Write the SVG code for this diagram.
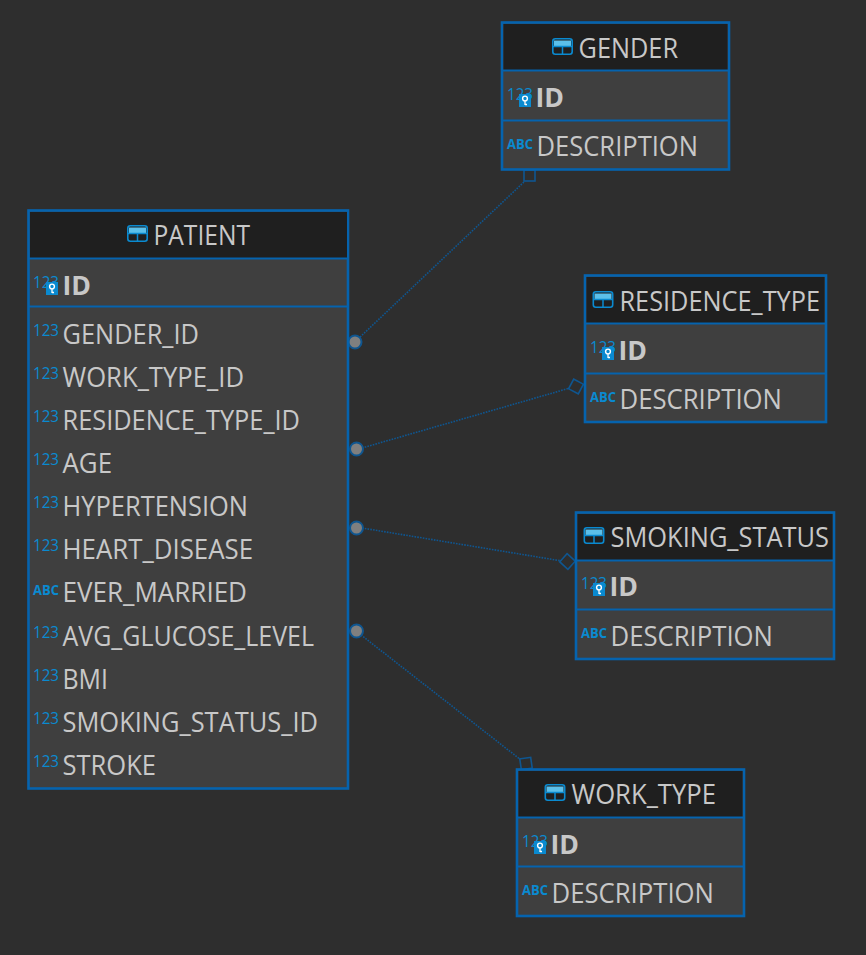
<svg xmlns="http://www.w3.org/2000/svg" xmlns:xlink="http://www.w3.org/1999/xlink" width="866" height="955" viewBox="0 0 866 955">
<style>
text{font-family:"Open Sans","Noto Sans","Liberation Sans",sans-serif}
.box{fill:#3f3f3f;stroke:#0563ae;stroke-width:2.600}
.head{fill:#1f1f1f}
.sep{stroke:#0563ae;stroke-width:1.800;fill:none}
.t{fill:#c8c8c8;font-size:27px}
.b{fill:#c8c8c8;font-size:27px;font-weight:700}
.n{fill:#0a8ad0;font-size:16px}
.a{fill:#0a8ad0;font-size:15px;font-weight:700}
.conn{stroke:#0f5690;stroke-width:1.6;stroke-dasharray:1.6 1.2;fill:none}
.end{fill:#2e2e2e;stroke:#0f5690;stroke-width:1.6}
.dot{fill:#7f7f7f;stroke:#0f5690;stroke-width:2}
</style>
<defs>
<g id="tbl">
<rect x="0.8" y="0.8" width="19.4" height="15.4" rx="2.5" fill="#1f1f1f" stroke="#0a8ad0" stroke-width="1.6"/>
<rect x="2" y="2.5" width="17" height="5.5" fill="#5cc0ea"/>
<path d="M1 8.5H20M10.500 8.5V16" stroke="#0a8ad0" stroke-width="1.5" fill="none"/>
</g>
<g id="key">
<rect x="0" y="0" width="12" height="13" fill="#0a8ad0"/>
<circle cx="6" cy="4.5" r="2.4" fill="none" stroke="#fff" stroke-width="1.4"/>
<path d="M6 7V11M6 10.5H8" stroke="#fff" stroke-width="1.3" fill="none"/>
</g>
</defs>
<rect width="866" height="955" fill="#2e2e2e"/>
<g id="connectors">
<path class="conn" d="M358 339L525 181"/>
<path class="conn" d="M362 448L570 388"/>
<path class="conn" d="M362 528L562 561"/>
<path class="conn" d="M361 635L521 760"/>
<rect class="end" x="524" y="170" width="11" height="11"/>
<rect class="end" x="570.500" y="381" width="11" height="11" transform="rotate(28 576 386.500)"/>
<rect class="end" x="562" y="556" width="11" height="11" transform="rotate(42 567.500 561.500)"/>
<rect class="end" x="520.500" y="758" width="11" height="11" transform="rotate(-8 526 763.500)"/>
<circle class="dot" cx="355" cy="342" r="6.500"/>
<circle class="dot" cx="356.500" cy="449" r="6.500"/>
<circle class="dot" cx="356.500" cy="528" r="6.500"/>
<circle class="dot" cx="356.500" cy="631" r="6.500"/>
</g>
<g id="patient">
<rect class="box" x="28.500" y="210.500" width="319.500" height="578"/>
<rect class="head" x="30" y="212" width="317" height="46"/>
<path class="sep" d="M29 258.500H347M29 306.500H347"/>
<use xlink:href="#tbl" href="#tbl" x="127" y="225"/>
<text class="t" x="153.500" y="245" textLength="96.500" lengthAdjust="spacingAndGlyphs">PATIENT</text>
<text class="n" x="33" y="288" textLength="26" lengthAdjust="spacingAndGlyphs">123</text>
<use xlink:href="#key" href="#key" x="46" y="282"/>
<text class="b" x="62.500" y="294.500" textLength="28.500" lengthAdjust="spacingAndGlyphs">ID</text>
<text class="n" x="33" y="336" textLength="26" lengthAdjust="spacingAndGlyphs">123</text>
<text class="t" x="62.500" y="343.500" textLength="136.500" lengthAdjust="spacingAndGlyphs">GENDER_ID</text>
<text class="n" x="33" y="379" textLength="26" lengthAdjust="spacingAndGlyphs">123</text>
<text class="t" x="62.500" y="386.500" textLength="181.500" lengthAdjust="spacingAndGlyphs">WORK_TYPE_ID</text>
<text class="n" x="33" y="422" textLength="26" lengthAdjust="spacingAndGlyphs">123</text>
<text class="t" x="62.500" y="430" textLength="237.500" lengthAdjust="spacingAndGlyphs">RESIDENCE_TYPE_ID</text>
<text class="n" x="33" y="465" textLength="26" lengthAdjust="spacingAndGlyphs">123</text>
<text class="t" x="62.500" y="473" textLength="49.500" lengthAdjust="spacingAndGlyphs">AGE</text>
<text class="n" x="33" y="508" textLength="26" lengthAdjust="spacingAndGlyphs">123</text>
<text class="t" x="62.500" y="516" textLength="185.500" lengthAdjust="spacingAndGlyphs">HYPERTENSION</text>
<text class="n" x="33" y="551" textLength="26" lengthAdjust="spacingAndGlyphs">123</text>
<text class="t" x="62.500" y="559" textLength="190.500" lengthAdjust="spacingAndGlyphs">HEART_DISEASE</text>
<text class="a" x="33" y="595" textLength="26" lengthAdjust="spacingAndGlyphs">ABC</text>
<text class="t" x="62.500" y="602" textLength="184.500" lengthAdjust="spacingAndGlyphs">EVER_MARRIED</text>
<text class="n" x="33" y="638" textLength="26" lengthAdjust="spacingAndGlyphs">123</text>
<text class="t" x="62.500" y="645.500" textLength="251.500" lengthAdjust="spacingAndGlyphs">AVG_GLUCOSE_LEVEL</text>
<text class="n" x="33" y="681" textLength="26" lengthAdjust="spacingAndGlyphs">123</text>
<text class="t" x="62.500" y="688.500" textLength="45.500" lengthAdjust="spacingAndGlyphs">BMI</text>
<text class="n" x="33" y="724" textLength="26" lengthAdjust="spacingAndGlyphs">123</text>
<text class="t" x="62.500" y="731.500" textLength="255.500" lengthAdjust="spacingAndGlyphs">SMOKING_STATUS_ID</text>
<text class="n" x="33" y="767" textLength="26" lengthAdjust="spacingAndGlyphs">123</text>
<text class="t" x="62.500" y="774.500" textLength="93.500" lengthAdjust="spacingAndGlyphs">STROKE</text>
</g>
<g id="gender">
<rect class="box" x="502" y="22.500" width="227" height="147"/>
<rect class="head" x="503.500" y="24" width="224" height="46"/>
<path class="sep" d="M503 70.500H728M503 120.500H728"/>
<use xlink:href="#tbl" href="#tbl" x="552" y="38"/>
<text class="t" x="578.500" y="57.500" textLength="99.500" lengthAdjust="spacingAndGlyphs">GENDER</text>
<text class="n" x="507" y="100" textLength="26" lengthAdjust="spacingAndGlyphs">123</text>
<use xlink:href="#key" href="#key" x="519" y="94"/>
<text class="b" x="535.500" y="106.500" textLength="28.500" lengthAdjust="spacingAndGlyphs">ID</text>
<text class="a" x="507" y="149" textLength="26" lengthAdjust="spacingAndGlyphs">ABC</text>
<text class="t" x="536.500" y="155.500" textLength="161.500" lengthAdjust="spacingAndGlyphs">DESCRIPTION</text>
</g>
<g id="residence_type">
<rect class="box" x="585" y="275.500" width="241" height="146.500"/>
<rect class="head" x="586.500" y="277" width="238" height="46"/>
<path class="sep" d="M586 323.500H825M586 373.500H825"/>
<use xlink:href="#tbl" href="#tbl" x="592.500" y="291"/>
<text class="t" x="619.500" y="311" textLength="200.500" lengthAdjust="spacingAndGlyphs">RESIDENCE_TYPE</text>
<text class="n" x="590" y="353" textLength="26" lengthAdjust="spacingAndGlyphs">123</text>
<use xlink:href="#key" href="#key" x="602" y="347"/>
<text class="b" x="618.500" y="359.500" textLength="28.500" lengthAdjust="spacingAndGlyphs">ID</text>
<text class="a" x="590" y="402" textLength="26" lengthAdjust="spacingAndGlyphs">ABC</text>
<text class="t" x="619.500" y="408.500" textLength="162.500" lengthAdjust="spacingAndGlyphs">DESCRIPTION</text>
</g>
<g id="smoking_status">
<rect class="box" x="576" y="512.500" width="258" height="146.500"/>
<rect class="head" x="577.500" y="514" width="255" height="46"/>
<path class="sep" d="M577 560.500H833M577 609.500H833"/>
<use xlink:href="#tbl" href="#tbl" x="583.500" y="527"/>
<text class="t" x="610.500" y="547" textLength="218.500" lengthAdjust="spacingAndGlyphs">SMOKING_STATUS</text>
<text class="n" x="581" y="589" textLength="26" lengthAdjust="spacingAndGlyphs">123</text>
<use xlink:href="#key" href="#key" x="593" y="583"/>
<text class="b" x="609.500" y="596" textLength="28.500" lengthAdjust="spacingAndGlyphs">ID</text>
<text class="a" x="581" y="638" textLength="26" lengthAdjust="spacingAndGlyphs">ABC</text>
<text class="t" x="610.500" y="645.500" textLength="162.500" lengthAdjust="spacingAndGlyphs">DESCRIPTION</text>
</g>
<g id="work_type">
<rect class="box" x="517" y="769.500" width="227" height="146.500"/>
<rect class="head" x="518.500" y="771" width="224" height="46"/>
<path class="sep" d="M518 817.500H743M518 866.500H743"/>
<use xlink:href="#tbl" href="#tbl" x="544.500" y="784"/>
<text class="t" x="571.500" y="804" textLength="144.500" lengthAdjust="spacingAndGlyphs">WORK_TYPE</text>
<text class="n" x="522" y="847" textLength="26" lengthAdjust="spacingAndGlyphs">123</text>
<use xlink:href="#key" href="#key" x="534" y="841"/>
<text class="b" x="550.500" y="853.500" textLength="28.500" lengthAdjust="spacingAndGlyphs">ID</text>
<text class="a" x="522" y="895" textLength="26" lengthAdjust="spacingAndGlyphs">ABC</text>
<text class="t" x="551.500" y="902.500" textLength="162.500" lengthAdjust="spacingAndGlyphs">DESCRIPTION</text>
</g>
</svg>
